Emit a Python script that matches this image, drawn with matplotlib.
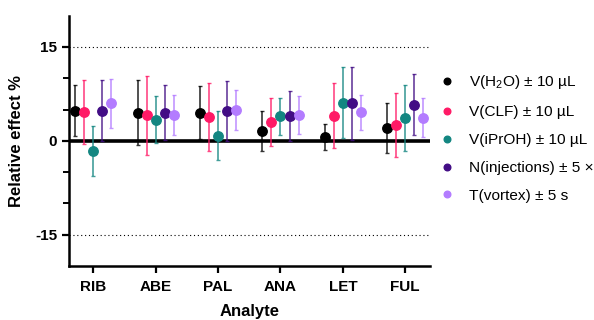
import matplotlib
matplotlib.use('Agg')
import matplotlib.pyplot as plt
import numpy as np

analytes = ['RIB', 'ABE', 'PAL', 'ANA', 'LET', 'FUL']
series_labels = [r'V(H$_2$O) ± 10 µL', 'V(CLF) ± 10 µL', 'V(iPrOH) ± 10 µL',
                 'N(injections) ± 5 ×', 'T(vortex) ± 5 s']

h2o = [4.8, 4.5, 4.5, 1.6, 0.6, 2.1]
h2o_err = [4.1, 5.2, 4.2, 3.2, 2.1, 4.0]
clf = [4.6, 4.1, 3.8, 3.0, 4.0, 2.5]
clf_err = [5.1, 6.3, 5.4, 3.8, 5.2, 5.1]
iproh = [-1.7, 3.4, 0.8, 3.9, 6.1, 3.6]
iproh_err = [4.0, 3.8, 3.9, 2.9, 5.7, 5.3]
injections = [4.8, 4.5, 4.8, 3.9, 6.0, 5.8]
injections_err = [4.9, 4.4, 4.8, 4.0, 5.8, 4.9]
vortex = [6.0, 4.1, 4.9, 4.1, 4.6, 3.7]
vortex_err = [3.9, 3.2, 3.2, 3.0, 2.8, 3.1]

values = [h2o, clf, iproh, injections, vortex]
errors = [h2o_err, clf_err, iproh_err, injections_err, vortex_err]
colors = ['#000000', '#FF1A66', '#138681', '#420D85', '#B37CFF']

plt.rcParams['font.family'] = ['Liberation Sans', 'DejaVu Sans']
plt.rcParams['mathtext.fontset'] = 'custom'
plt.rcParams['mathtext.rm'] = 'Liberation Sans'
plt.rcParams['axes.unicode_minus'] = False

fig = plt.figure(figsize=(5.94, 3.2), dpi=100)
ax = fig.add_axes([0.1162, 0.169, 0.608, 0.782])

x = np.arange(len(analytes))
offset = 0.145
for i in range(len(values)):
    xs = x + (i - 2) * offset
    ax.errorbar(xs, values[i], yerr=errors[i], fmt='none', ecolor=colors[i],
                alpha=0.8, elinewidth=1.2, capsize=1.5, capthick=1.0, zorder=3)
    ax.plot(xs, values[i], 'o', color=colors[i], markersize=6.8, zorder=4,
            label=series_labels[i], linestyle='none')

ax.axhline(0, color='black', linewidth=2.6, zorder=2)
for yv in [15, -15]:
    ax.axhline(yv, color='black', linewidth=0.8, linestyle=(0, (1, 2.5)), zorder=1)

ax.set_xlim(-0.39, 5.4)
ax.set_ylim(-20, 20)
ax.set_xticks(x)
ax.set_xticklabels(analytes, fontweight='bold', fontsize=11)
ax.set_yticks([-15, 0, 15])
ax.set_yticklabels(['-15', '0', '15'], fontweight='bold', fontsize=11)
ax.set_yticks([-10, -5, 5, 10], minor=True)
ax.tick_params(axis='both', which='major', length=5, width=1.6)
ax.tick_params(axis='y', which='minor', length=4, width=1.4)
ax.tick_params(axis='x', pad=5)

for side in ['top', 'right']:
    ax.spines[side].set_visible(False)
for side in ['left', 'bottom']:
    ax.spines[side].set_linewidth(1.8)

ax.set_xlabel('Analyte', fontweight='bold', fontsize=12, labelpad=7)
ax.set_ylabel('Relative effect %', fontweight='bold', fontsize=12, labelpad=8)

fig.legend(loc='upper left', bbox_to_anchor=(0.7165, 0.79), frameon=False,
           fontsize=11.1, handletextpad=0.4, labelspacing=0.9, markerscale=0.7,
           borderaxespad=0)

plt.savefig('out.png', dpi=100)
